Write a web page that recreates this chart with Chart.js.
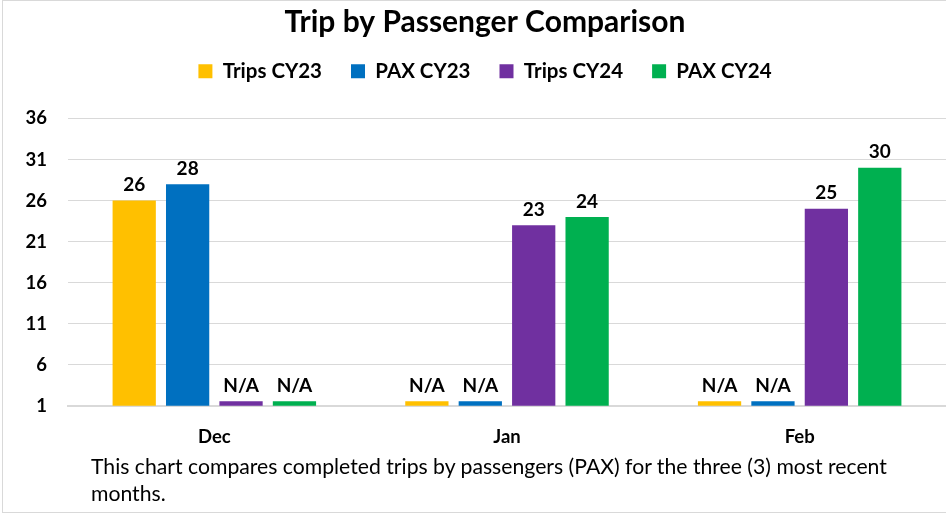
<!DOCTYPE html>
<html lang="en">
<head>
    <meta charset="UTF-8">
    <script src="https://cdn.jsdelivr.net/npm/chart.js"></script>
    <title>Trip by Passenger Comparison</title>
    <style>
        body { margin: 0; background: #fff; }
        #box {
            position: relative; width: 943px; height: 511px;
            border-top: 1px solid #d9d9d9; border-left: 1px solid #d9d9d9; border-bottom: 1px solid #d9d9d9;
            margin-left: 2px;
        }
        #wrap { position: absolute; left: 0; top: 0; width: 943px; height: 511px; }
        #note {
            position: absolute; left: 88px; top: 452px; width: 820px;
            font-family: Lato, sans-serif; font-size: 21.2px; line-height: 27px; color: #000;
        }
    </style>
</head>
<body>
    <div id="box">
        <div id="wrap"><canvas id="trips"></canvas></div>
        <div id="note">This chart compares completed trips by passengers (PAX) for the three (3) most recent months.</div>
    </div>
<script>
    // months and counts, null = no data (N/A)
    const months = ['Dec', 'Jan', 'Feb'];
    const tripsCY23 = [26, null, null];
    const paxCY23 = [28, null, null];
    const tripsCY24 = [null, 23, 25];
    const paxCY24 = [null, 24, 30];
    const yTicks = [1, 6, 11, 16, 21, 26, 31, 36];

    // small stub drawn for N/A so the bar is still visible on the axis
    const naStub = 1.55;

    const seriesNames = ['Trips CY23', 'PAX CY23', 'Trips CY24', 'PAX CY24'];
    const seriesColors = ['#FFC000', '#0070C0', '#7030A0', '#00B050'];
    const seriesData = [tripsCY23, paxCY23, tripsCY24, paxCY24];

    const font = 'Lato, sans-serif';

    const valueLabels = {
        id: 'valueLabels',
        afterDatasetsDraw(chart) {
            const ctx = chart.ctx;
            ctx.save();
            ctx.font = 'bold 19px ' + font;
            ctx.fillStyle = '#000';
            ctx.textAlign = 'center';
            ctx.textBaseline = 'bottom';
            chart.data.datasets.forEach((ds, i) => {
                chart.getDatasetMeta(i).data.forEach((bar, j) => {
                    const v = seriesData[i][j];
                    const txt = v === null ? 'N/A' : String(v);
                    ctx.fillText(txt, bar.x, bar.y - 6);
                });
            });
            ctx.restore();
        }
    };

    const ctx = document.getElementById('trips').getContext('2d');
    new Chart(ctx, {
        type: 'bar',
        data: {
            labels: months,
            datasets: seriesData.map((arr, i) => ({
                label: seriesNames[i],
                data: arr.map(v => v === null ? naStub : v),
                backgroundColor: seriesColors[i],
                categoryPercentage: 0.73,
                barPercentage: 0.81
            }))
        },
        options: {
            responsive: true,
            maintainAspectRatio: false,
            animation: false,
            layout: { padding: { left: 21, right: 0, top: 2, bottom: 52 } },
            plugins: {
                title: {
                    display: true,
                    text: 'Trip by Passenger Comparison',
                    color: '#000',
                    font: { family: font, size: 30, weight: 'bold', lineHeight: 1.0 },
                    padding: { top: 4, bottom: -5 }
                },
                legend: {
                    labels: {
                        color: '#000',
                        boxWidth: 14,
                        boxHeight: 14,
                        padding: 29,
                        font: { family: font, size: 20.5, weight: 'bold' }
                    }
                },
                tooltip: { enabled: false }
            },
            scales: {
                x: {
                    grid: { display: false },
                    border: { color: '#d9d9d9', width: 2 },
                    ticks: { color: '#000', padding: 12, font: { family: font, size: 18.5, weight: 'bold' } }
                },
                // empty band between the legend and the plot
                gap: {
                    type: 'category',
                    position: 'top',
                    labels: months,
                    grid: { display: false },
                    border: { display: false },
                    ticks: { display: false },
                    afterFit: axis => { axis.height = 27; }
                },
                y: {
                    min: yTicks[0],
                    max: yTicks[yTicks.length - 1],
                    afterBuildTicks: axis => { axis.ticks = yTicks.map(v => ({ value: v })); },
                    afterFit: axis => { axis.width = 44; },
                    grid: { color: '#d9d9d9', drawTicks: false },
                    border: { display: false },
                    ticks: { color: '#000', padding: 21, font: { family: font, size: 18.5, weight: 'bold' } }
                }
            }
        },
        plugins: [valueLabels]
    });
</script>
</body>
</html>
